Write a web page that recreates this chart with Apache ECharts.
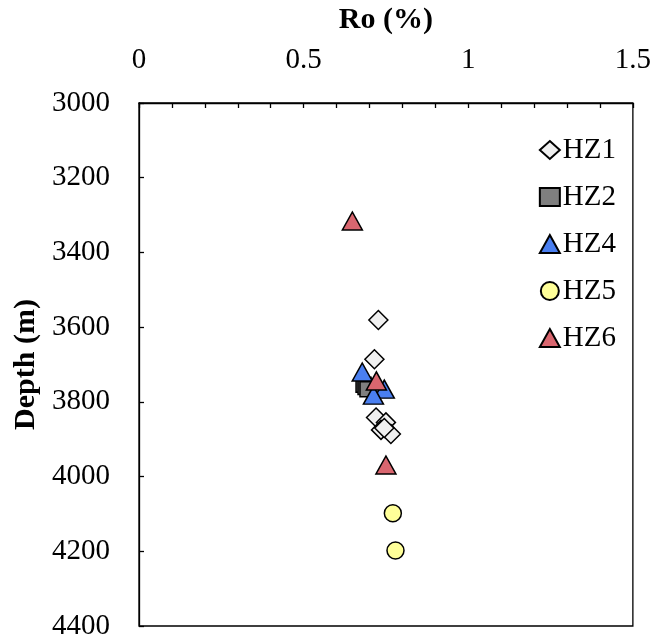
<!DOCTYPE html>
<html>
<head>
<meta charset="utf-8">
<script src="https://cdn.jsdelivr.net/npm/echarts@6/dist/echarts.min.js"></script>
<style>
  html, body { margin: 0; padding: 0; background: #fff; }
  #chart { width: 654px; height: 644px; }
</style>
</head>
<body>
<div id="chart"></div>
<script>
// Vitrinite reflectance (Ro, %) against burial depth (m) for each well
const xTicks = [0, 0.5, 1, 1.5];
const depthTicks = [3000, 3200, 3400, 3600, 3800, 4000, 4200, 4400];

const hz1 = [[0.727, 3581], [0.715, 3686], [0.72, 3842], [0.75, 3855], [0.735, 3875], [0.765, 3886], [0.745, 3870]];
const hz2 = [[0.682, 3754], [0.688, 3760], [0.694, 3766]];
const hz4 = [[0.678, 3720], [0.745, 3766], [0.712, 3782]];
const hz5 = [[0.771, 4098], [0.779, 4198]];
const hz6 = [[0.648, 3316], [0.721, 3744], [0.75, 3969]];

const serif = '"Liberation Serif", "Times New Roman", serif';
const labelSize = 29;

const seriesDefs = [
  { name: 'HZ1', data: hz1, symbol: 'diamond', size: [19, 19], color: '#f0f0f0' },
  { name: 'HZ2', data: hz2, symbol: 'rect', size: [15, 15], color: '#7f7f7f' },
  { name: 'HZ4', data: hz4, symbol: 'triangle', size: [20, 18], color: '#4a7ff0' },
  { name: 'HZ5', data: hz5, symbol: 'circle', size: [17, 17], color: '#ffff99' },
  { name: 'HZ6', data: hz6, symbol: 'triangle', size: [20, 18], color: '#d9666f' }
];

const chart = echarts.init(document.getElementById('chart'), null, { renderer: 'canvas' });

chart.setOption({
  animation: false,
  backgroundColor: '#fff',
  grid: {
    left: 139, right: 20, top: 103, bottom: 18,
    show: true, borderColor: '#000', borderWidth: 1.3, backgroundColor: 'transparent'
  },
  legend: {
    orient: 'vertical',
    right: 38,
    top: 135,
    padding: 0,
    itemGap: 17,
    itemWidth: 20,
    itemHeight: 18,
    textStyle: { fontFamily: serif, fontSize: labelSize, lineHeight: 30, color: '#000', padding: [0, 0, 0, -2] },
    data: seriesDefs.map(s => ({ name: s.name, icon: s.symbol }))
  },
  xAxis: {
    type: 'value',
    position: 'top',
    min: xTicks[0],
    max: xTicks[xTicks.length - 1],
    interval: 0.5,
    name: 'Ro (%)',
    nameLocation: 'middle',
    nameGap: 68,
    nameTextStyle: { fontFamily: serif, fontSize: 30, fontWeight: 'bold', color: '#000' },
    axisLine: { show: true, lineStyle: { color: '#000', width: 1.3 } },
    axisTick: { show: true, inside: true, length: 5, lineStyle: { color: '#000', width: 1.3 } },
    minorTick: { show: true, splitNumber: 5, length: 5, lineStyle: { color: '#000', width: 1.3 } },
    axisLabel: {
      fontFamily: serif, fontSize: labelSize, color: '#000', margin: 28,
      formatter: v => String(v)
    },
    splitLine: { show: false }
  },
  yAxis: {
    type: 'value',
    inverse: true,
    min: depthTicks[0],
    max: depthTicks[depthTicks.length - 1],
    interval: 200,
    name: 'Depth (m)',
    nameLocation: 'middle',
    nameGap: 95,
    nameRotate: 90,
    nameTextStyle: { fontFamily: serif, fontSize: 30, fontWeight: 'bold', color: '#000' },
    axisLine: { show: true, lineStyle: { color: '#000', width: 1.3 } },
    axisTick: { show: true, inside: true, length: 5, lineStyle: { color: '#000', width: 1.3 } },
    axisLabel: { fontFamily: serif, fontSize: labelSize, color: '#000', margin: 29, formatter: v => String(v) },
    splitLine: { show: false }
  },
  series: seriesDefs.map(s => ({
    name: s.name,
    type: 'scatter',
    data: s.data,
    symbol: s.symbol,
    symbolSize: s.size,
    itemStyle: { color: s.color, borderColor: '#000', borderWidth: 1.5, opacity: 1 }
  }))
});
</script>
</body>
</html>
